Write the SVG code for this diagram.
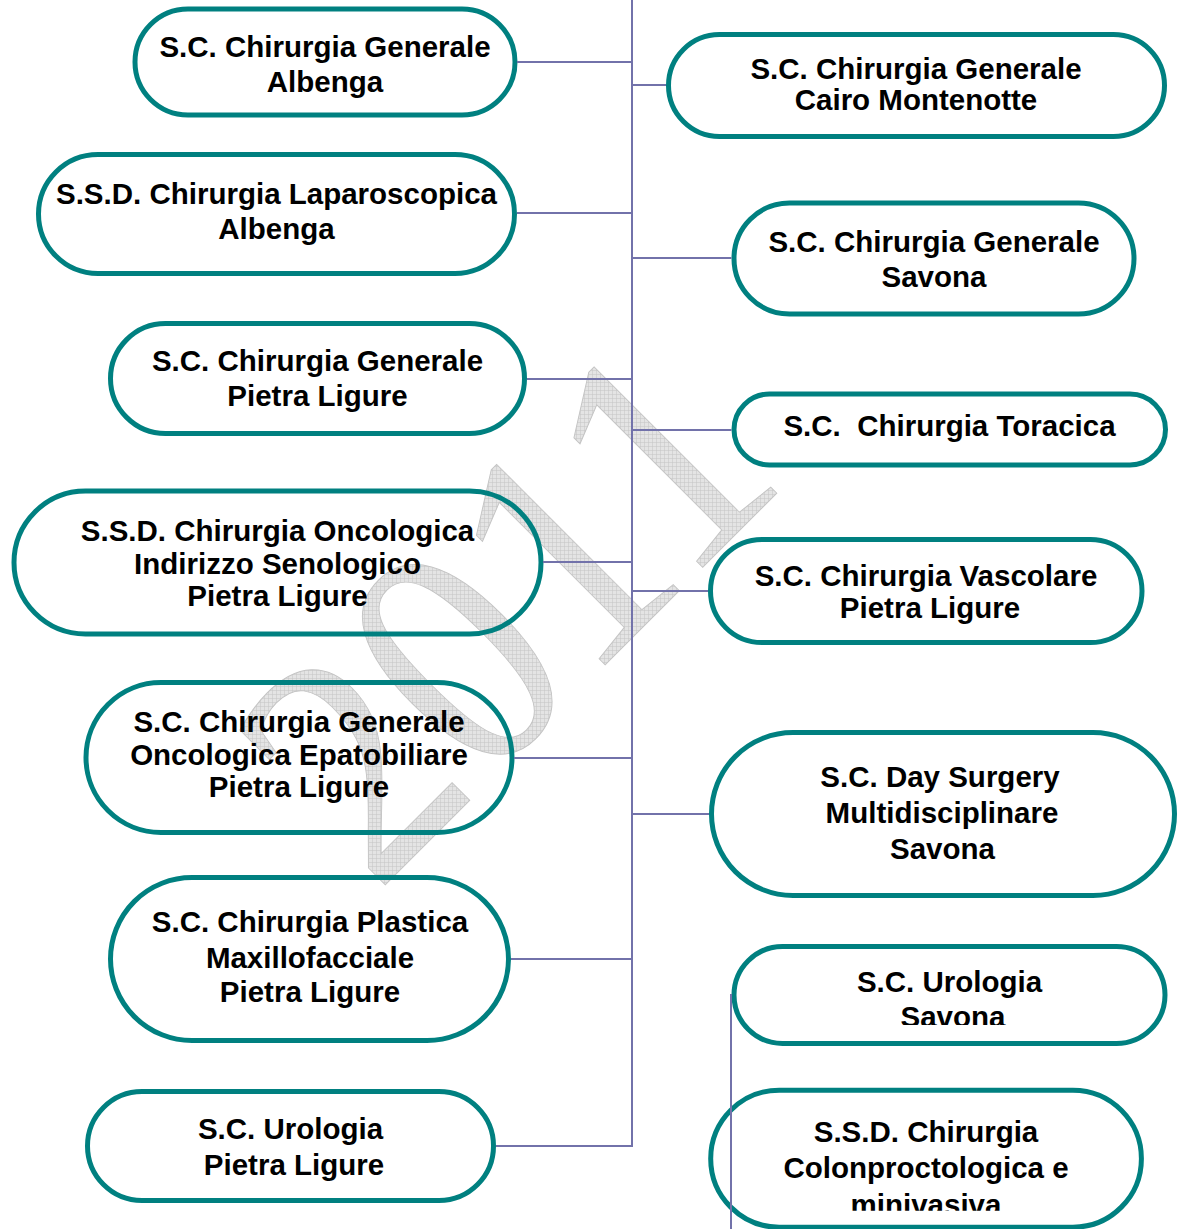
<svg xmlns="http://www.w3.org/2000/svg" width="1181" height="1229" viewBox="0 0 1181 1229">
<style>
.node rect{fill:none;stroke:#008080;stroke-width:5}
.node text{font-family:"Liberation Sans",Arial,sans-serif;font-weight:bold;font-size:29.5px;fill:#000;text-anchor:middle}
.conn line{stroke:#7272aa;stroke-width:2}
.wm{font-family:"Liberation Serif","Times New Roman",serif;font-size:331px;fill:url(#grid);stroke:#c4c4c4;stroke-width:1}
</style>
<defs>
<pattern id="grid" width="4" height="4" patternUnits="userSpaceOnUse" patternTransform="scale(1.1111,1) rotate(45)">
<rect width="4" height="4" fill="#e4e4e4"/>
<path d="M0 0.3H4M0.3 0V4" stroke="#c2c2c2" stroke-width="0.6"/>
</pattern>
<clipPath id="clipR6"><rect x="700" y="940" width="481" height="85"/></clipPath>
<clipPath id="clipR7"><rect x="700" y="1085" width="481" height="125.7"/></clipPath>
</defs>
<rect width="1181" height="1229" fill="#fff"/>
<g id="watermark">
<text class="wm" transform="translate(376,894) rotate(-45) scale(0.9,1)">2011</text>
</g>
<g id="L1" class="node"><rect x="135" y="9" width="380" height="106" rx="53"/><text x="325" y="57">S.C. Chirurgia Generale</text><text x="325" y="92">Albenga</text></g>
<g id="L2" class="node"><rect x="38.5" y="154.5" width="476" height="119" rx="59.5"/><text x="276.5" y="204">S.S.D. Chirurgia Laparoscopica</text><text x="276.5" y="239">Albenga</text></g>
<g id="L3" class="node"><rect x="110.5" y="323.5" width="414" height="110" rx="55"/><text x="317.5" y="371">S.C. Chirurgia Generale</text><text x="317.5" y="406">Pietra Ligure</text></g>
<g id="L4" class="node"><rect x="14" y="491" width="527" height="143" rx="71.5"/><text x="277.5" y="541">S.S.D. Chirurgia Oncologica</text><text x="277.5" y="573.5">Indirizzo Senologico</text><text x="277.5" y="606">Pietra Ligure</text></g>
<g id="L5" class="node"><rect x="86" y="682.5" width="426" height="150" rx="75"/><text x="299" y="732">S.C. Chirurgia Generale</text><text x="299" y="765">Oncologica Epatobiliare</text><text x="299" y="797">Pietra Ligure</text></g>
<g id="L6" class="node"><rect x="110.5" y="877.5" width="398" height="163" rx="81.5"/><text x="310" y="932">S.C. Chirurgia Plastica</text><text x="310" y="968">Maxillofacciale</text><text x="310" y="1002">Pietra Ligure</text></g>
<g id="L7" class="node"><rect x="87.5" y="1091.5" width="406" height="109" rx="54.5"/><text x="290.5" y="1139">S.C. Urologia</text><text x="294" y="1175">Pietra Ligure</text></g>
<g id="R1" class="node"><rect x="668.5" y="34.5" width="496" height="102" rx="51"/><text x="916" y="79">S.C. Chirurgia Generale</text><text x="916" y="110">Cairo Montenotte</text></g>
<g id="R2" class="node"><rect x="734" y="203" width="400" height="111" rx="55.5"/><text x="934" y="251.7">S.C. Chirurgia Generale</text><text x="934" y="286.7">Savona</text></g>
<g id="R3" class="node"><rect x="734" y="394" width="431.5" height="71" rx="35.5"/><text x="949.5" y="435.7">S.C.&#160; Chirurgia Toracica</text></g>
<g id="R4" class="node"><rect x="710.5" y="539.5" width="431.5" height="103" rx="51.5"/><text x="926" y="586">S.C. Chirurgia Vascolare</text><text x="930" y="618.3">Pietra Ligure</text></g>
<g id="R5" class="node"><rect x="711.5" y="732.5" width="463" height="163" rx="81.5"/><text x="940" y="787">S.C. Day Surgery</text><text x="942" y="823">Multidisciplinare</text><text x="942.5" y="859">Savona</text></g>
<g id="R6" class="node"><rect x="734" y="946.5" width="431" height="97" rx="48.5"/><g clip-path="url(#clipR6)"><text x="949.5" y="991.7">S.C. Urologia</text><text x="953" y="1026.7">Savona</text></g></g>
<g id="R7" class="node"><rect x="710.7" y="1090.2" width="430.7" height="137" rx="68.5"/><g clip-path="url(#clipR7)"><text x="926" y="1141.7">S.S.D. Chirurgia</text><text x="926" y="1178.3">Colonproctologica e</text><text x="926" y="1215">minivasiva</text></g></g>
<g id="connectors" class="conn">
<line x1="632" y1="0" x2="632" y2="1147"/>
<line x1="517" y1="62" x2="632" y2="62"/>
<line x1="517" y1="213" x2="632" y2="213"/>
<line x1="527" y1="379" x2="632" y2="379"/>
<line x1="543" y1="562" x2="632" y2="562"/>
<line x1="514" y1="758" x2="632" y2="758"/>
<line x1="511" y1="959" x2="632" y2="959"/>
<line x1="496" y1="1146" x2="632" y2="1146"/>
<line x1="632" y1="85" x2="666" y2="85"/>
<line x1="632" y1="258" x2="731.5" y2="258"/>
<line x1="632" y1="430" x2="731.5" y2="430"/>
<line x1="632" y1="591" x2="708" y2="591"/>
<line x1="632" y1="814" x2="709" y2="814"/>
<line x1="731" y1="994" x2="731" y2="1229"/>
</g>
</svg>
